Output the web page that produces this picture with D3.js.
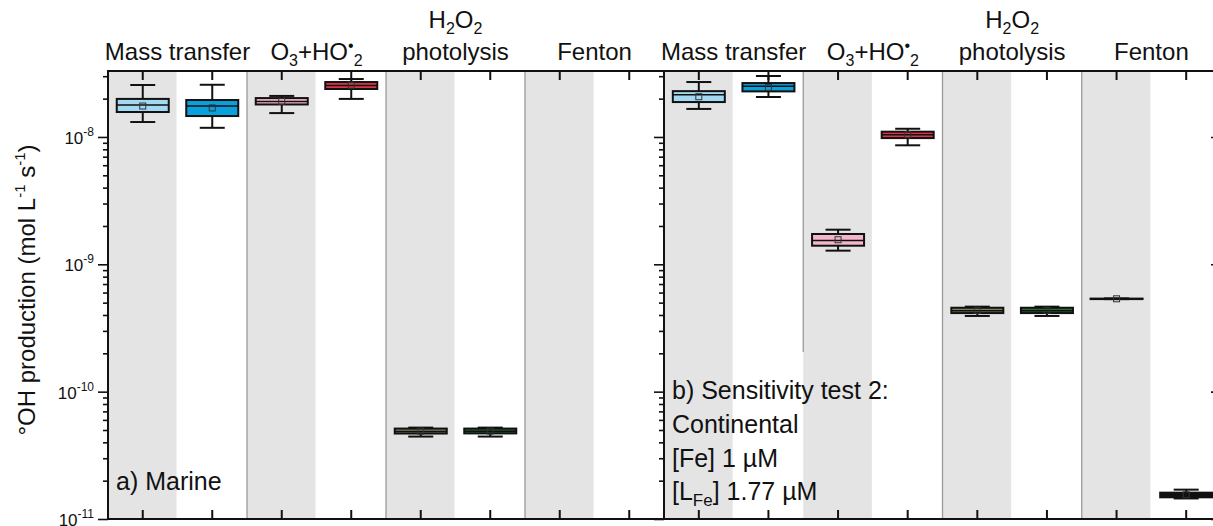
<!DOCTYPE html>
<html>
<head>
<meta charset="utf-8">
<script src="https://cdn.jsdelivr.net/npm/d3@7"></script>
<style>
  body { margin: 0; background: #fff; }
  svg text { font-family: Arial, "Liberation Sans", sans-serif; fill: #111; }
</style>
</head>
<body>
<script>
// categories (two per process group)
var groups = ["Mass transfer", "O3+HO2", "H2O2 photolysis", "Fenton"];
var categories = [0, 1, 2, 3, 4, 5, 6, 7];
var boxColors = ["#a3daf1", "#0aa0dc", "#f4b6ca", "#db3549", "#76845e", "#2b6a36", "#9a9a9a", "#111111"];

// a) Marine : whisker low, q1, median, q3, whisker high, mean
var marineLow  = [1.31e-8, 1.18e-8, 1.54e-8, 1.99e-8, 4.44e-11, 4.44e-11, null, null];
var marineQ1   = [1.57e-8, 1.46e-8, 1.80e-8, 2.38e-8, 4.69e-11, 4.70e-11, null, null];
var marineMed  = [1.78e-8, 1.75e-8, 1.90e-8, 2.54e-8, 4.86e-11, 4.88e-11, null, null];
var marineQ3   = [1.99e-8, 1.95e-8, 2.02e-8, 2.70e-8, 5.13e-11, 5.13e-11, null, null];
var marineHigh = [2.56e-8, 2.57e-8, 2.10e-8, 2.85e-8, 5.22e-11, 5.22e-11, null, null];
var marineMean = [1.75e-8, 1.69e-8, 1.90e-8, 2.55e-8, 4.90e-11, 4.90e-11, null, null];

// b) Continental
var contLow  = [1.66e-8, 2.06e-8, 1.28e-9, 8.6e-9,  3.93e-10, 3.93e-10, 5.33e-10, 1.45e-11];
var contQ1   = [1.88e-8, 2.28e-8, 1.40e-9, 9.8e-9,  4.14e-10, 4.14e-10, 5.35e-10, 1.48e-11];
var contMed  = [2.15e-8, 2.50e-8, 1.54e-9, 1.04e-8, 4.32e-10, 4.32e-10, 5.36e-10, 1.54e-11];
var contQ3   = [2.29e-8, 2.65e-8, 1.73e-9, 1.10e-8, 4.56e-10, 4.56e-10, 5.38e-10, 1.61e-11];
var contHigh = [2.70e-8, 3.01e-8, 1.87e-9, 1.16e-8, 4.65e-10, 4.65e-10, 5.40e-10, 1.70e-11];
var contMean = [2.07e-8, 2.45e-8, 1.56e-9, 1.04e-8, 4.35e-10, 4.35e-10, 5.36e-10, 1.55e-11];

var yMajor = [1e-11, 1e-10, 1e-9, 1e-8];
var yExp = ["-11", "-10", "-9", "-8"];

var W = 1213, H = 526;
var yTop = 71, yBot = 519;
var svg = d3.select("body").append("svg").attr("width", W).attr("height", H);

var y = d3.scaleLog().domain([1e-11, Math.pow(10, -7.482)]).range([yBot, yTop]);
var xLeft = d3.scaleBand().domain(categories).range([108, 664]);
var xRight = d3.scaleBand().domain(categories).range([664, 1221]);

var minor = [];
for (var e = -11; e <= -8; e++) {
  for (var m = 1; m <= 9; m++) {
    var v = m * Math.pow(10, e);
    if (v <= y.domain()[1]) minor.push(v);
  }
}

function panel(x, low, q1, med, q3, high, mean, cutDivider) {
  var g = svg.append("g");
  // shaded bands
  g.selectAll("rect.band").data(categories.filter(function(d){ return d % 2 == 0; }))
    .enter().append("rect")
    .attr("x", function(d){ return x(d); })
    .attr("y", yTop)
    .attr("width", x.bandwidth() - 1)
    .attr("height", yBot - yTop)
    .style("fill", "#e4e4e4");
  // group dividers
  g.selectAll("line.div").data([2, 4, 6]).enter().append("line")
    .attr("x1", function(d){ return x(d); })
    .attr("x2", function(d){ return x(d); })
    .attr("y1", yTop)
    .attr("y2", function(d){ return (cutDivider && d == 2) ? 352 : yBot; })
    .style("stroke", "#9a9a9a").style("stroke-width", 1.3);

  var bw = 52, cw = 25;
  var data = categories.filter(function(i){ return low[i] != null; });
  var b = g.selectAll("g.box").data(data).enter().append("g")
    .attr("transform", function(i){ return "translate(" + (x(i) + x.bandwidth() / 2) + ",0)"; });
  b.append("line").attr("x1", 0).attr("x2", 0)
    .attr("y1", function(i){ return y(low[i]); })
    .attr("y2", function(i){ return y(high[i]); })
    .style("stroke", "#111").style("stroke-width", 2);
  b.append("line").attr("x1", -cw / 2).attr("x2", cw / 2)
    .attr("y1", function(i){ return y(high[i]); }).attr("y2", function(i){ return y(high[i]); })
    .style("stroke", "#111").style("stroke-width", 2);
  b.append("line").attr("x1", -cw / 2).attr("x2", cw / 2)
    .attr("y1", function(i){ return y(low[i]); }).attr("y2", function(i){ return y(low[i]); })
    .style("stroke", "#111").style("stroke-width", 2);
  b.append("rect")
    .attr("x", -bw / 2)
    .attr("y", function(i){ return y(q3[i]); })
    .attr("width", bw)
    .attr("height", function(i){ return Math.max(0.5, y(q1[i]) - y(q3[i])); })
    .style("fill", function(i){ return boxColors[i]; })
    .style("stroke", "#111").style("stroke-width", 2);
  b.append("line").attr("x1", -bw / 2).attr("x2", bw / 2)
    .attr("y1", function(i){ return y(med[i]); }).attr("y2", function(i){ return y(med[i]); })
    .style("stroke", "#111").style("stroke-width", 1.5);
  b.append("rect")
    .attr("x", -3).attr("width", 6).attr("height", 6)
    .attr("y", function(i){ return y(mean[i]) - 3; })
    .style("fill", "none").style("stroke", "#333").style("stroke-width", 1);

  // category ticks top (down) and bottom (up)
  var cx = categories.map(function(i){ return x(i) + x.bandwidth() / 2; });
  g.selectAll("line.tt").data(cx).enter().append("line")
    .attr("x1", function(d){ return d; }).attr("x2", function(d){ return d; })
    .attr("y1", yTop).attr("y2", yTop + 9).style("stroke", "#111").style("stroke-width", 2);
  g.selectAll("line.bt").data(cx).enter().append("line")
    .attr("x1", function(d){ return d; }).attr("x2", function(d){ return d; })
    .attr("y1", yBot).attr("y2", yBot - 9).style("stroke", "#111").style("stroke-width", 2);

  // group labels
  var gl = svg.append("g").attr("font-size", 24);
  groups.forEach(function(name, k) {
    var c = x(k * 2) + x.bandwidth();
    var t;
    if (k == 0 || k == 3) {
      gl.append("text").attr("x", c).attr("y", 60).attr("text-anchor", "middle").text(name);
    } else if (k == 1) {
      t = gl.append("text").attr("x", c).attr("y", 60).attr("text-anchor", "middle");
      t.append("tspan").text("O");
      t.append("tspan").attr("font-size", 16).attr("dy", 6).text("3");
      t.append("tspan").attr("dy", -6).text("+HO");
      t.append("tspan").attr("font-size", 16).attr("dy", -9).text("\u2022");
      t.append("tspan").attr("font-size", 16).attr("dy", 15).text("2");
    } else {
      t = gl.append("text").attr("x", c).attr("y", 28).attr("text-anchor", "middle");
      t.append("tspan").text("H");
      t.append("tspan").attr("font-size", 16).attr("dy", 6).text("2");
      t.append("tspan").attr("dy", -6).text("O");
      t.append("tspan").attr("font-size", 16).attr("dy", 6).text("2");
      gl.append("text").attr("x", c).attr("y", 60).attr("text-anchor", "middle").text("photolysis");
    }
  });
}

panel(xLeft, marineLow, marineQ1, marineMed, marineQ3, marineHigh, marineMean, false);
panel(xRight, contLow, contQ1, contMed, contQ3, contHigh, contMean, true);

// y axes: left, middle, right (right mostly off screen)
function yAxis(xpos) {
  var a = d3.axisLeft(y).tickValues(minor).tickFormat("").tickSizeOuter(0).tickSize(9);
  var g = svg.append("g").attr("transform", "translate(" + xpos + ",0)").call(a);
  g.select(".domain").remove();
  g.selectAll(".tick line")
    .attr("x2", function(d){ var maj = Math.abs(Math.log10(d) - Math.round(Math.log10(d))) < 1e-6; return maj ? -10 : -5; })
    .style("stroke", "#111").style("stroke-width", 1.6);
  svg.append("line").attr("x1", xpos).attr("x2", xpos).attr("y1", yTop).attr("y2", yBot)
    .style("stroke", "#111").style("stroke-width", 2);
}
yAxis(108);
yAxis(664);
yAxis(1221);

// frame top / bottom
svg.append("line").attr("x1", 107).attr("x2", W).attr("y1", yTop).attr("y2", yTop).style("stroke", "#111").style("stroke-width", 2);
svg.append("line").attr("x1", 107).attr("x2", W).attr("y1", yBot).attr("y2", yBot).style("stroke", "#111").style("stroke-width", 2);

// y tick labels
var yl = svg.append("g").attr("font-size", 17).attr("text-anchor", "end");
yMajor.forEach(function(v, k) {
  var t = yl.append("text").attr("x", 94).attr("y", y(v) + 7);
  t.append("tspan").text("10");
  t.append("tspan").attr("font-size", 12).attr("dy", -8).text(yExp[k]);
});

// y title
var tt = svg.append("text").attr("transform", "translate(35,290) rotate(-90)")
  .attr("text-anchor", "middle").attr("font-size", 24);
tt.append("tspan").text("\u00b0OH production (mol L");
tt.append("tspan").attr("font-size", 15).attr("dy", -10).text("-1");
tt.append("tspan").attr("dy", 10).text(" s");
tt.append("tspan").attr("font-size", 15).attr("dy", -10).text("-1");
tt.append("tspan").attr("dy", 10).text(")");

// panel annotations
svg.append("text").attr("x", 116).attr("y", 490).attr("font-size", 25).text("a) Marine");
var ann = ["b) Sensitivity test 2:", "Continental", "[Fe] 1 \u00b5M"];
ann.forEach(function(s, k) {
  svg.append("text").attr("x", 672).attr("y", 399 + k * 34).attr("font-size", 25).text(s);
});
var lf = svg.append("text").attr("x", 672).attr("y", 500).attr("font-size", 25);
lf.append("tspan").text("[L");
lf.append("tspan").attr("font-size", 17).attr("dy", 6).text("Fe");
lf.append("tspan").attr("dy", -6).text("] 1.77 \u00b5M");
</script>
</body>
</html>
